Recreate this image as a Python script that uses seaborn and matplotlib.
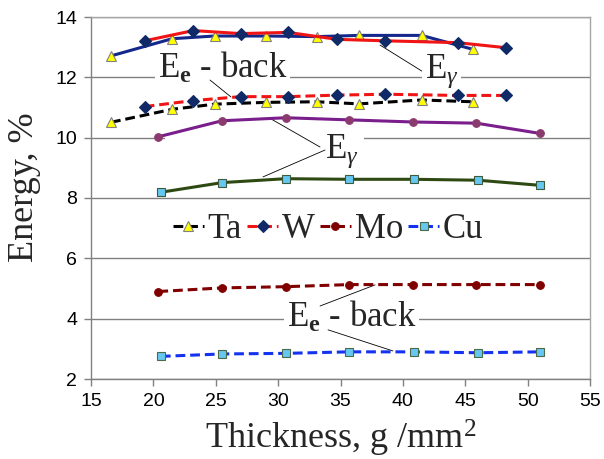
import matplotlib
matplotlib.use("Agg")
import matplotlib.pyplot as plt
from matplotlib.font_manager import FontProperties
from matplotlib.patches import Rectangle
import seaborn as sns

# Measured energy fractions versus absorber thickness
ta_x = [16.6, 21.5, 24.9, 29.0, 33.1, 36.5, 41.5, 45.6]
ta_gamma = [12.71, 13.28, 13.37, 13.37, 13.35, 13.39, 13.39, 12.93]
ta_back = [10.51, 10.94, 11.11, 11.17, 11.19, 11.12, 11.25, 11.19]

w_x = [19.3, 23.2, 27.0, 30.8, 34.7, 38.6, 44.4, 48.3]
w_gamma = [13.21, 13.55, 13.45, 13.49, 13.26, 13.21, 13.15, 12.98]
w_back = [11.03, 11.23, 11.36, 11.36, 11.41, 11.44, 11.40, 11.40]

mo_x = [20.4, 25.5, 30.6, 35.7, 40.8, 45.9, 51.0]
mo_gamma = [10.03, 10.56, 10.66, 10.59, 10.52, 10.48, 10.14]
mo_back = [4.90, 5.02, 5.06, 5.13, 5.13, 5.13, 5.13]

cu_x = [20.6, 25.5, 30.6, 35.7, 40.9, 46.0, 51.0]
cu_gamma = [8.19, 8.51, 8.64, 8.62, 8.62, 8.59, 8.42]
cu_back = [2.75, 2.83, 2.85, 2.90, 2.90, 2.87, 2.90]

materials = ["Ta", "W", "Mo", "Cu"]
x_ticks = [15, 20, 25, 30, 35, 40, 45, 50, 55]
y_ticks = [2, 4, 6, 8, 10, 12, 14]

sns.set_theme(style="ticks")
plt.rcParams["font.family"] = ["Liberation Sans", "DejaVu Sans"]
plt.rcParams["mathtext.fontset"] = "custom"
plt.rcParams["mathtext.rm"] = "Liberation Serif"
plt.rcParams["mathtext.it"] = "Liberation Serif:italic"
plt.rcParams["mathtext.bf"] = "Liberation Serif:bold"

SERIF = "Liberation Serif"
DASH = (0, (3.2, 1.6))

fig = plt.figure(figsize=(6.04, 4.59), dpi=100)
ax = fig.add_axes([91 / 604, 1 - 379 / 459, 499 / 604, 362 / 459])

styles = [
    # x, y, line colour, linestyle, marker, size, face, edge, label
    (ta_x, ta_back, "#000000", DASH, "^", 7, "#FFFF00", "#808080", materials[0]),
    (w_x, w_back, "#F01414", DASH, "D", 5.8, "#0F2A66", "#0F2A66", materials[1]),
    (mo_x, mo_back, "#800000", DASH, "o", 5.5, "#800000", "#800000", materials[2]),
    (cu_x, cu_back, "#1432F0", DASH, "s", 6, "#66C8F0", "#4A6A4A", materials[3]),
    (ta_x, ta_gamma, "#14288C", "-", "^", 7, "#FFFF00", "#808080", None),
    (w_x, w_gamma, "#F01414", "-", "D", 5.8, "#0F2A66", "#0F2A66", None),
    (mo_x, mo_gamma, "#7A1E8C", "-", "o", 5.5, "#8B3A6E", "#8B3A6E", None),
    (cu_x, cu_gamma, "#2E4A12", "-", "s", 6, "#66C8F0", "#3C5A3C", None),
]

for xs, ys, col, ls, mk, ms, mfc, mec, lab in styles:
    sns.lineplot(x=xs, y=ys, ax=ax, color=col, linewidth=2.2, linestyle=ls,
                 marker=mk, markersize=ms, markerfacecolor=mfc,
                 markeredgecolor=mec, markeredgewidth=0.8,
                 label=lab, errorbar=None, zorder=5)

ax.set_xlim(15, 55)
ax.set_ylim(2, 14)
ax.set_xticks(x_ticks)
ax.set_yticks(y_ticks)
ax.tick_params(axis="both", direction="out", length=5, width=1,
               color="#808080", labelsize=14, pad=5, labelcolor="black")
ax.grid(axis="y", color="#808080", linewidth=1)
ax.grid(axis="x", visible=False)
ax.set_axisbelow(True)
for side in ["left", "bottom"]:
    ax.spines[side].set_color("#808080")
    ax.spines[side].set_linewidth(1)
for side in ["top", "right"]:
    ax.spines[side].set_visible(True)
    ax.spines[side].set_color("#A6A6A6")
    ax.spines[side].set_linewidth(1)

ax.set_xlabel("Thickness, g /mm$^2$", fontsize=26, family=SERIF, labelpad=6)
ax.set_ylabel("Energy, %", fontsize=26, family=SERIF)
ax.yaxis.set_label_coords(-0.10, 0.53)

handles, labels = ax.get_legend_handles_labels()
ax.legend(handles=handles, labels=labels, ncol=4, loc="center",
          bbox_to_anchor=(0.475, 0.412), frameon=False,
          prop=FontProperties(family=SERIF, size=25),
          handlelength=0.9, handletextpad=0.1, columnspacing=0.15,
          borderaxespad=0, borderpad=0)

box = dict(facecolor="white", edgecolor="none", pad=2)
ax.text(20.35, 11.98, r"E$_\mathbf{e}$ - back", fontsize=25, family=SERIF,
        ha="left", va="baseline", bbox=box, zorder=4)
ax.text(41.75, 11.98, r"E$_\gamma$", fontsize=25, family=SERIF,
        ha="left", va="baseline", bbox=box, zorder=4)
ax.text(33.75, 9.33, r"E$_\gamma$", fontsize=25, family=SERIF,
        ha="left", va="baseline", bbox=box, zorder=4)
ax.text(30.7, 3.73, r"E$_\mathbf{e}$ - back", fontsize=25, family=SERIF,
        ha="left", va="baseline", bbox=box, zorder=4)

# White backing of the middle label's text box, hiding the gridline under it
ax.add_patch(Rectangle((20.9, 9.8), 16.0, 0.4, facecolor="white",
                       edgecolor="none", zorder=1))

# Leader lines from the labels to the curves they name
leaders = [
    ((24.54, 11.91), (26.22, 11.35)),
    ((41.51, 12.21), (38.17, 13.07)),
    ((33.36, 9.69), (29.35, 10.64)),
    ((33.76, 9.59), (28.79, 8.70)),
    ((33.36, 4.42), (37.77, 5.12)),
    ((34.0, 3.63), (39.2, 2.93)),
]
for start, end in leaders:
    ax.annotate("", xy=end, xytext=start,
                arrowprops=dict(arrowstyle="-", color="black", lw=0.6,
                                shrinkA=0, shrinkB=0), zorder=4)

fig.savefig("out.png", dpi=100)
